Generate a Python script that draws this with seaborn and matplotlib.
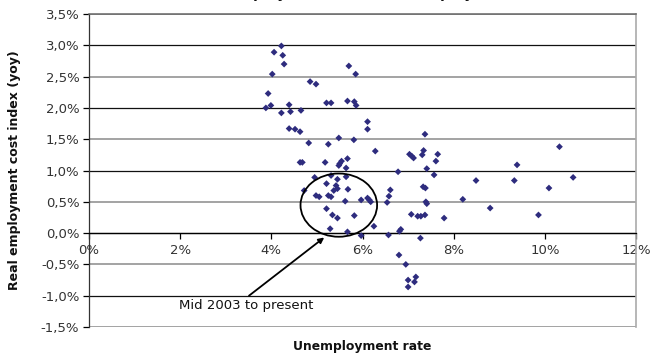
# -*- coding: utf-8 -*-
"""
Scatter of real employment cost index (yoy) vs unemployment rate,
with the mid-2003-to-present cluster circled.
"""
import numpy as np
import pandas as pd
import seaborn as sns
import matplotlib.pyplot as plt
from matplotlib.patches import Ellipse
from matplotlib.ticker import FuncFormatter

# unemployment rate (%)
unemployment = [4.22, 4.06, 4.25, 4.28, 5.70, 4.02, 4.85, 4.98, 3.93, 3.88,
                3.99, 4.39, 4.42, 4.22, 4.65, 5.21, 5.31, 5.67, 4.39, 4.52,
                4.63, 5.48, 4.82, 5.25, 4.63, 4.68, 5.18, 5.67, 5.54, 5.50,
                5.48, 5.64, 4.95, 5.31, 5.45, 5.21, 5.42, 5.45, 5.37, 5.68,
                4.72, 4.98, 5.05, 5.25, 5.31, 5.62, 5.21, 5.34, 5.45, 5.29,
                5.67, 5.85, 5.82, 5.86, 6.11, 6.11, 7.37, 5.81, 6.28, 7.03,
                7.08, 7.12, 7.34, 7.31, 7.65, 7.61, 7.41, 6.78, 7.57, 7.33,
                7.38, 6.61, 6.58, 5.97, 6.11, 6.15, 6.18, 6.54, 7.39, 7.41,
                5.82, 7.07, 7.21, 7.28, 7.37, 7.79, 6.25, 5.97, 6.57, 6.81,
                6.84, 7.27, 6.80, 6.95, 7.00, 7.17, 7.14, 7.00, 10.32, 9.39,
                8.49, 9.33, 10.62, 10.09, 8.20, 8.80, 9.86, 5.64]
# real employment cost index, yoy (%)
eci_real = [2.99, 2.89, 2.84, 2.70, 2.67, 2.54, 2.42, 2.38, 2.23, 2.00,
            2.04, 2.05, 1.94, 1.92, 1.96, 2.08, 2.08, 2.11, 1.67, 1.66,
            1.62, 1.52, 1.44, 1.42, 1.13, 1.13, 1.13, 1.19, 1.15, 1.11,
            1.08, 1.04, 0.89, 0.92, 0.86, 0.79, 0.76, 0.71, 0.68, 0.70,
            0.68, 0.60, 0.58, 0.60, 0.58, 0.51, 0.39, 0.29, 0.24, 0.07,
            0.02, 2.54, 2.10, 2.04, 1.78, 1.66, 1.58, 1.49, 1.31, 1.26,
            1.23, 1.20, 1.32, 1.25, 1.26, 1.15, 1.03, 0.98, 0.93, 0.74,
            0.72, 0.69, 0.59, 0.53, 0.56, 0.53, 0.50, 0.49, 0.50, 0.47,
            0.28, 0.30, 0.27, 0.27, 0.29, 0.24, 0.11, -0.04, -0.03, 0.03,
            0.06, -0.08, -0.35, -0.50, -0.75, -0.70, -0.78, -0.86, 1.38, 1.09,
            0.84, 0.84, 0.89, 0.72, 0.54, 0.40, 0.29, 0.90]

x_ticks = [0, 2, 4, 6, 8, 10, 12]
y_ticks = [-1.5, -1.0, -0.5, 0.0, 0.5, 1.0, 1.5, 2.0, 2.5, 3.0, 3.5]

annot_text = "Mid 2003 to present"
title_text = "Real employment cost vs. unemployment"

df = pd.DataFrame({"unemployment": unemployment, "eci": eci_real})

sns.set_style("white")
plt.rcParams["font.family"] = ["DejaVu Sans"]

fig = plt.figure(figsize=(6.51, 3.59), dpi=100)
ax = fig.add_axes([0.1367, 0.0891, 0.977 - 0.1367, 0.961 - 0.0891])

sns.scatterplot(data=df, x="unemployment", y="eci", ax=ax, marker="D",
                s=12, color="#2e2c7e", edgecolor="none", linewidth=0, zorder=3)

ax.set_xlim(0, 12)
ax.set_ylim(-1.5, 3.5)
ax.set_xticks(x_ticks)
ax.set_yticks(y_ticks)
ax.xaxis.set_major_formatter(FuncFormatter(lambda v, p: "%d%%" % v))
ax.yaxis.set_major_formatter(FuncFormatter(lambda v, p: ("%.1f%%" % v).replace(".", ",")))

# horizontal gridlines (whole percents darker, half percents grey)
for yv in y_ticks:
    if yv == int(yv):
        ax.axhline(yv, color="#111111", lw=0.9, zorder=1)
    else:
        ax.axhline(yv, color="#8a8a8a", lw=1.1, zorder=1)

# x axis crosses at zero, excel style
ax.spines["bottom"].set_position(("data", 0))
ax.spines["bottom"].set_color("black")
ax.spines["bottom"].set_linewidth(0.9)
ax.spines["left"].set_color("#333333")
ax.spines["left"].set_linewidth(0.9)
ax.spines["right"].set_color("#aaaaaa")
ax.spines["right"].set_linewidth(1.2)
ax.spines["top"].set_color("#666666")
ax.spines["top"].set_linewidth(1.1)
ax.tick_params(axis="x", direction="out", length=4, width=0.9, color="black",
               labelsize=9.5, labelcolor="#333333", pad=4)
ax.tick_params(axis="y", direction="out", length=4, width=0.9, color="black",
               labelsize=9.5, labelcolor="#333333", pad=3)
ax.xaxis.set_ticks_position("bottom")
ax.yaxis.set_ticks_position("left")

ax.set_xlabel("")
ax.set_ylabel("")
fig.text(0.557, 0.016, "Unemployment rate", ha="center", va="bottom",
         fontsize=8.9, fontweight="bold", color="#111111")
fig.text(0.022, 0.525, "Real employment cost index (yoy)", ha="center", va="center",
         rotation=90, fontsize=9, fontweight="bold", color="#111111")

# chart title, mostly cut off by the top edge (only descenders show)
fig.text(0.54, 1.0 + 2.0 / 359, title_text, ha="center", va="baseline",
         fontsize=10, fontweight="bold", color="#111111")

# circle around the recent cluster + arrow
circ = Ellipse((5.48, 0.447), width=1.68, height=1.01, fill=False,
               edgecolor="black", lw=1.3, zorder=4)
ax.add_patch(circ)
ax.annotate("", xy=(5.16, -0.07), xytext=(3.51, -1.0),
            arrowprops=dict(arrowstyle="-|>", color="black", lw=1.3,
                            mutation_scale=8, shrinkA=0, shrinkB=0))
ax.text(3.44, -1.16, annot_text, ha="center", va="center", fontsize=9.5, color="#111111")

fig.savefig("out.png", dpi=100)
